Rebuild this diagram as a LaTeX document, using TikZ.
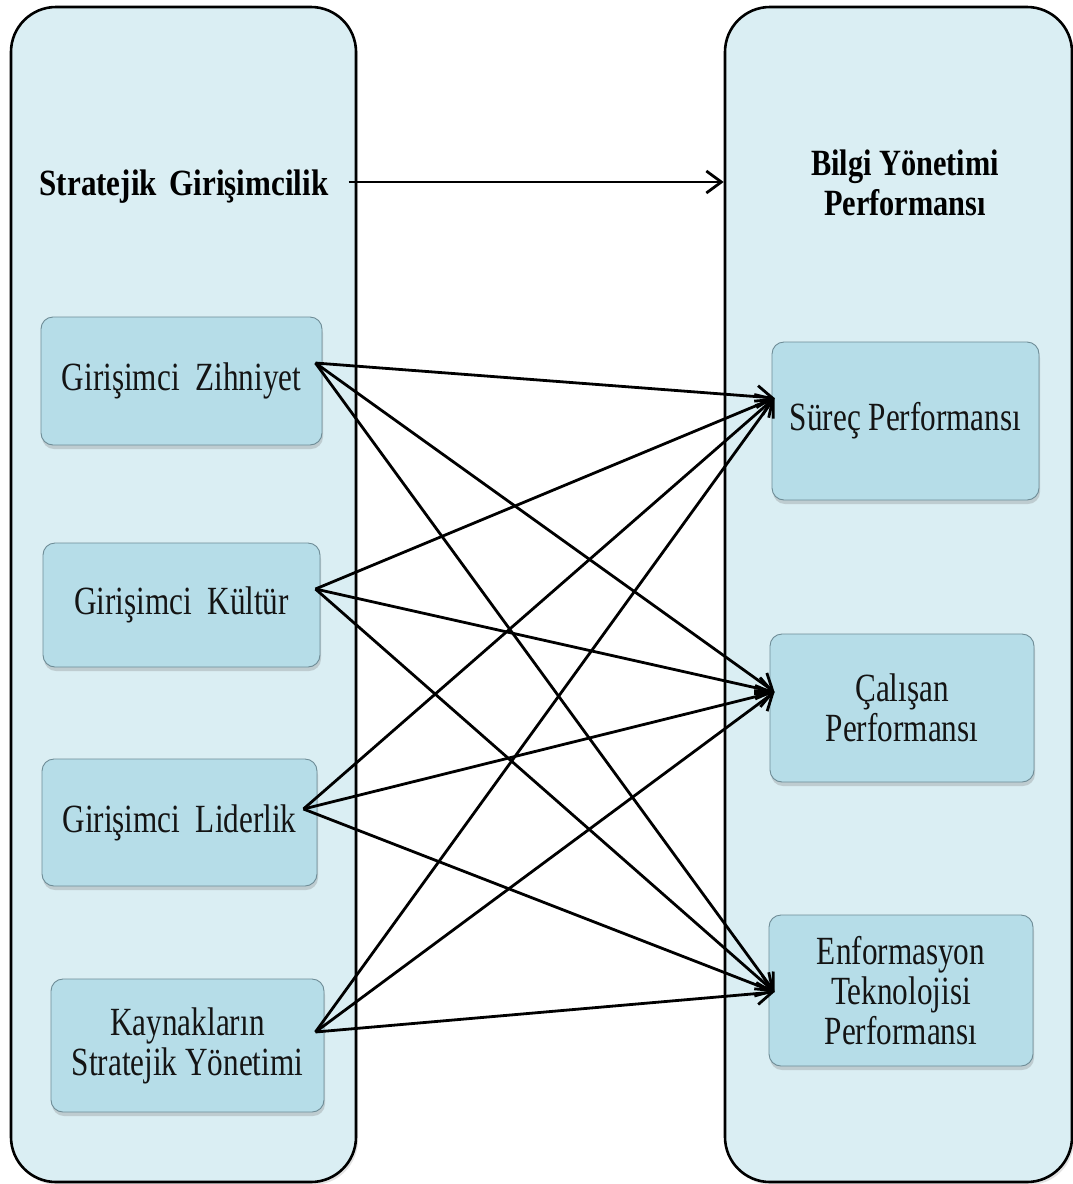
\documentclass[tikz,border=0pt]{standalone}
\usepackage{fontspec}
\setmainfont{Liberation Serif}
\usepackage{graphicx}
\usetikzlibrary{arrows.meta,shadows,calc}

\definecolor{panelfill}{HTML}{DAEEF3}
\definecolor{boxfill}{HTML}{B6DDE8}
\definecolor{boxline}{HTML}{6E8C96}
\definecolor{inktext}{HTML}{141414}

% condensed lettering used throughout
\newcommand\sq[2][0.8]{\scalebox{#1}[1]{#2}}

\begin{document}
\begin{tikzpicture}[x=1pt,y=-1pt,
  panel/.style={draw=black, line width=2.6pt, fill=panelfill,
    rounded corners=45pt, inner sep=0pt,
    drop shadow={shadow xshift=2pt, shadow yshift=-3pt, opacity=0.22}},
  item/.style={draw=boxline, line width=0.9pt, fill=boxfill,
    rounded corners=12pt, inner sep=0pt, align=center, text=inktext,
    font=\fontsize{40}{40}\selectfont,
    drop shadow={shadow xshift=1pt, shadow yshift=-4pt, opacity=0.3}},
  heading/.style={inner sep=0pt, align=center, text=black,
    font=\bfseries\fontsize{37}{40}\selectfont},
  link/.style={line width=2.8pt, -{Straight Barb[length=15pt,width=22pt]}}
]
\useasboundingbox (0,0) rectangle (1073,1184);

% outer panels
\node[panel, minimum width=345pt, minimum height=1175pt] (lp) at (183.5,594.5) {};
\node[panel, minimum width=347pt, minimum height=1175pt] (rp) at (898.5,594.5) {};

% headings
\node[heading, anchor=base] (sg) at (184,195) {\sq[0.84]{Stratejik\hspace{0.4em}Girişimcilik}};
\node[heading] (bp) at (905,183) {\sq[0.82]{Bilgi Yönetimi}\\\sq[0.82]{Performansı}};

% dimensions of strategic entrepreneurship
\node[item, minimum width=281pt, minimum height=128pt] (z)  at (181.5,381)  {\sq[0.78]{Girişimci~~Zihniyet}};
\node[item, minimum width=277pt, minimum height=124pt] (k)  at (181.5,605)  {\sq[0.78]{Girişimci~~Kültür}};
\node[item, minimum width=275pt, minimum height=127pt] (l)  at (179.5,822.5) {\sq[0.78]{Girişimci~~Liderlik}};
\node[item, minimum width=273pt, minimum height=133pt] (ky) at (187.5,1045.5) {\sq[0.78]{Kaynakların}\\\sq[0.78]{Stratejik Yönetimi}};

% dimensions of knowledge management performance
\node[item, minimum width=267pt, minimum height=158pt] (s) at (905.5,421) {\sq[0.78]{Süreç Performansı}};
\node[item, minimum width=264pt, minimum height=148pt] (c) at (902,708)   {\sq[0.78]{Çalışan}\\\sq[0.78]{Performansı}};
\node[item, minimum width=264pt, minimum height=151pt] (e) at (901,990.5) {\sq[0.78]{Enformasyon}\\\sq[0.78]{Teknolojisi}\\\sq[0.78]{Performansı}};

% connector end points
\coordinate (zo) at ($(z.east)+(-7,-18)$);
\coordinate (ko) at ($(k.east)+(-5,-16)$);
\coordinate (lo) at ($(l.east)+(-14,-13.5)$);
\coordinate (yo) at ($(ky.east)+(-9,-13.5)$);
\coordinate (si) at ($(s.west)+(3,-23)$);
\coordinate (ci) at ($(c.west)+(5,-16)$);
\coordinate (ei) at ($(e.west)+(6,1.5)$);

% main relation
\coordinate (ta) at ($(sg.base east)+(20,-13)$);
\draw[link] (ta) -- (ta -| rp.west);

% every dimension to every outcome
\foreach \src in {zo,ko,lo,yo}
  \foreach \dst in {si,ci,ei}
    \draw[link] (\src) -- (\dst);
\end{tikzpicture}
\end{document}
